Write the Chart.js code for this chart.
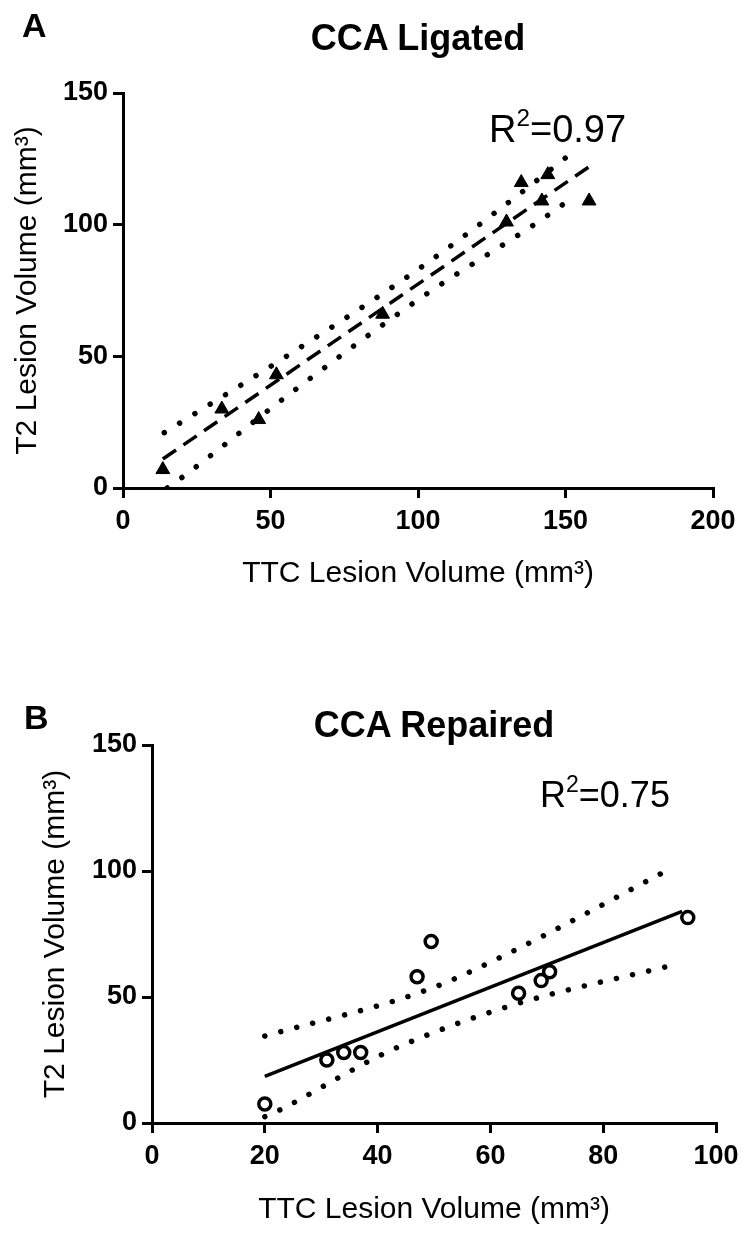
<!DOCTYPE html>
<html>
<head>
<meta charset="utf-8">
<script src="https://cdn.jsdelivr.net/npm/chart.js"></script>
<style>
  body { margin: 0; background: #fff; }
  #page {
    position: relative;
    width: 747px;
    height: 1235px;
    font-family: "Liberation Sans", Arial, sans-serif;
    color: #000;
  }
  canvas { position: absolute; left: 0; }
  .txt { position: absolute; line-height: 1; white-space: nowrap; }
  .letter { font-size: 34px; font-weight: bold; }
  .title { font-size: 36px; font-weight: bold; width: 400px; text-align: center; }
  .r2 sup { font-size: 0.64em; position: relative; top: -0.1em; vertical-align: super; line-height: 0; }
</style>
</head>
<body>
<div id="page">
  <canvas id="chartA" width="747" height="610" style="top:0"></canvas>
  <canvas id="chartB" width="747" height="625" style="top:610px"></canvas>

  <div class="txt letter" style="left:22px; top:8px">A</div>
  <div class="txt title" style="left:218px; top:20px">CCA Ligated</div>
  <div class="txt r2" style="left:489px; top:110px; font-size:38px">R<sup>2</sup>=0.97</div>

  <div class="txt letter" style="left:24px; top:700px">B</div>
  <div class="txt title" style="left:234px; top:707px">CCA Repaired</div>
  <div class="txt r2" style="left:540px; top:777px; font-size:36px">R<sup>2</sup>=0.75</div>
</div>

<script>
// A: CCA ligated
const ligatedTTC = [13.5, 33.5, 46, 52, 88, 130, 135, 142, 144, 158];
const ligatedT2 = [7, 30, 26, 43, 66, 101, 116, 109, 119, 109];
const ligatedFitX = [13.5, 158];
const ligatedFitY = [11, 122];
const ligatedUpperX = [14, 54, 100, 129, 153];
const ligatedUpperY = [21, 49, 83, 107, 128];
const ligatedLowerX = [15, 20, 58, 102, 142, 152];
const ligatedLowerY = [0, 4, 37, 73, 102, 110];

// B: CCA repaired
const repairedTTC = [20, 31, 34, 37, 47, 49.5, 65, 69, 70.5, 95];
const repairedT2 = [7.5, 25, 28, 28, 58, 72, 51.5, 56.5, 60, 81.5];
const repairedFitX = [20, 94];
const repairedFitY = [18.5, 84];
const repairedUpperX = [20, 49, 62, 92];
const repairedUpperY = [34.5, 53, 66, 101];
const repairedLowerX = [20, 22.5, 38, 44, 63.5, 93];
const repairedLowerY = [2.5, 5, 24, 30.5, 46.5, 63];

const xTicksA = [0, 50, 100, 150, 200];
const xTicksB = [0, 20, 40, 60, 80, 100];
const yTicks = [0, 50, 100, 150];

const FONT = "'Liberation Sans', Arial, sans-serif";

function toPoints(xs, ys) {
  return xs.map((x, i) => ({ x: x, y: ys[i] }));
}

function bandSet(xs, ys, gap) {
  return {
    data: toPoints(xs, ys),
    showLine: true,
    borderColor: "#000",
    borderWidth: 5.5,
    borderDash: [0.01, gap],
    borderCapStyle: "round",
    cubicInterpolationMode: "monotone",
    pointRadius: 0,
  };
}

function makePanel(id, p) {
  return new Chart(document.getElementById(id), {
    type: "scatter",
    data: {
      datasets: [
        bandSet(p.upperX, p.upperY, p.dotGap),
        bandSet(p.lowerX, p.lowerY, p.dotGap),
        {
          data: toPoints(p.fitX, p.fitY),
          showLine: true,
          borderColor: "#000",
          borderWidth: 3.5,
          borderDash: p.fitDash,
          pointRadius: 0,
        },
        {
          data: toPoints(p.xs, p.ys),
          pointStyle: p.marker,
          pointRadius: p.markerSize,
          pointBackgroundColor: p.markerFill,
          pointBorderColor: "#000",
          pointBorderWidth: p.markerBorder,
        },
      ],
    },
    options: {
      responsive: false,
      animation: false,
      layout: { padding: { top: p.padTop, right: p.padRight, left: 0, bottom: 0 } },
      plugins: { legend: { display: false }, tooltip: { enabled: false } },
      scales: {
        x: {
          type: "linear",
          min: 0,
          max: p.xTicks[p.xTicks.length - 1],
          afterBuildTicks: (s) => { s.ticks = p.xTicks.map((v) => ({ value: v })); },
          afterFit: (s) => { s.height = p.xHeight; },
          ticks: { color: "#000", padding: 7, font: { family: FONT, size: 27, weight: "bold" } },
          grid: { drawOnChartArea: false, color: "#000", lineWidth: 3, tickLength: 10 },
          border: { color: "#000", width: 3 },
          title: {
            display: true,
            text: "TTC Lesion Volume (mm³)",
            color: "#000",
            font: { family: FONT, size: 30 },
            padding: { top: 0, bottom: p.xTitlePad },
          },
        },
        y: {
          type: "linear",
          min: 0,
          max: 150,
          afterBuildTicks: (s) => { s.ticks = yTicks.map((v) => ({ value: v })); },
          afterFit: (s) => { s.width = p.yWidth; },
          ticks: { color: "#000", padding: 5, font: { family: FONT, size: 27, weight: "bold" } },
          grid: { drawOnChartArea: false, color: "#000", lineWidth: 3, tickLength: 10 },
          border: { color: "#000", width: 3 },
          title: {
            display: true,
            text: "T2 Lesion Volume (mm³)",
            color: "#000",
            font: { family: FONT, size: 30 },
            padding: { top: p.yTitlePad, bottom: 0 },
          },
        },
      },
    },
  });
}

makePanel("chartA", {
  xs: ligatedTTC, ys: ligatedT2,
  fitX: ligatedFitX, fitY: ligatedFitY,
  upperX: ligatedUpperX, upperY: ligatedUpperY,
  lowerX: ligatedLowerX, lowerY: ligatedLowerY,
  xTicks: xTicksA,
  fitDash: [16, 9],
  dotGap: 18,
  marker: "triangle", markerSize: 8, markerFill: "#000", markerBorder: 1,
  padTop: 93, padRight: 34,
  xHeight: 122, yWidth: 123,
  xTitlePad: 18, yTitlePad: 10,
});

makePanel("chartB", {
  xs: repairedTTC, ys: repairedT2,
  fitX: repairedFitX, fitY: repairedFitY,
  upperX: repairedUpperX, upperY: repairedUpperY,
  lowerX: repairedLowerX, lowerY: repairedLowerY,
  xTicks: xTicksB,
  fitDash: [],
  dotGap: 16.5,
  marker: "circle", markerSize: 6, markerFill: "rgba(255,255,255,0)", markerBorder: 3.5,
  padTop: 135, padRight: 31,
  xHeight: 112, yWidth: 152,
  xTitlePad: 7, yTitlePad: 38,
});
</script>
</body>
</html>
